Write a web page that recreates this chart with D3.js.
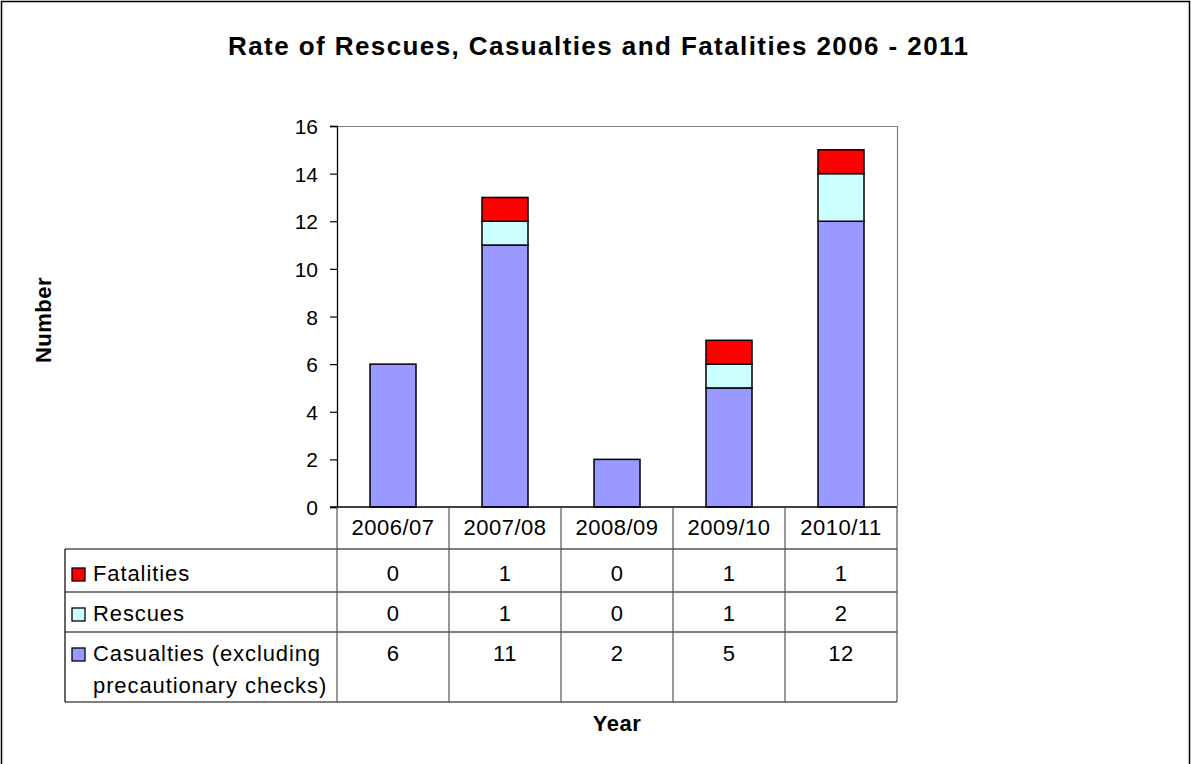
<!DOCTYPE html>
<html><head><meta charset="utf-8">
<script src="https://cdn.jsdelivr.net/npm/d3@7"></script>
<style>
html,body{margin:0;padding:0;background:#fff;}
svg{display:block;font-family:"Liberation Sans",Arial,sans-serif;}
</style></head>
<body><svg id="c" width="1191" height="764"></svg>
<script>
const years = ["2006/07","2007/08","2008/09","2009/10","2010/11"];
const casualties = [6,11,2,5,12];
const rescues = [0,1,0,1,2];
const fatalities = [0,1,0,1,1];
const yTicks = [0,2,4,6,8,10,12,14,16];
const seriesColors = ["#9999FF","#CCFFFF","#FF0000"];

const svg = d3.select("#c");
const L=337,R=897,T=126,B=507;
const y = d3.scaleLinear().domain([0,16]).range([B,T]);
const x = d3.scaleBand().domain(years).range([L,R]).paddingInner(0).paddingOuter(0);
const barW = 46;
const FS = 22;

// outer border
svg.append("rect").attr("x",1.5).attr("y",1.5).attr("width",1188).attr("height",780)
  .attr("fill","none").attr("stroke","#000").attr("stroke-width",1.5);

// title
svg.append("text").attr("x",598).attr("y",55).attr("text-anchor","middle")
  .attr("font-weight","bold").attr("font-size",26)
  .attr("textLength",740).attr("lengthAdjust","spacing")
  .text("Rate of Rescues, Casualties and Fatalities 2006 - 2011");

// plot frame top/right
svg.append("path").attr("d",`M${L},${T+0.5}H${R+0.5}V${B}`).attr("fill","none").attr("stroke","#808080").attr("stroke-width",1.2);

// stacked data
const table = years.map((yr,i)=>({year:yr, c:casualties[i], r:rescues[i], f:fatalities[i]}));
const stack = d3.stack().keys(["c","r","f"])(table);
stack.forEach((layer,li)=>{
  svg.append("g").selectAll("rect").data(layer.filter(d=>d[1]-d[0]>0)).join("rect")
    .attr("x",d=>x(d.data.year)+x.bandwidth()/2-barW/2)
    .attr("y",d=>y(d[1]))
    .attr("width",barW)
    .attr("height",d=>y(d[0])-y(d[1]))
    .attr("fill",seriesColors[li])
    .attr("stroke","#000").attr("stroke-width",1.5);
});

// y axis
const yAxis = d3.axisLeft(y).tickValues(yTicks).tickSize(7).tickPadding(12).tickFormat(d3.format("d"));
const ga = svg.append("g").attr("transform",`translate(${L},0)`).call(yAxis);
ga.select(".domain").attr("stroke","#000").attr("stroke-width",1.3);
ga.selectAll(".tick line").attr("stroke","#000").attr("stroke-width",1.2);
ga.selectAll(".tick text").attr("font-size",21).attr("fill","#000").attr("dy","0.36em")
  .attr("font-family","Liberation Sans, Arial, sans-serif");

// baseline
svg.append("line").attr("x1",L-7).attr("x2",R).attr("y1",B).attr("y2",B).attr("stroke","#000").attr("stroke-width",1.3);

// data table
const rowsY = [549,592,632,702];
const tl = 65;
const gt = svg.append("g").attr("font-size",FS).attr("letter-spacing",0.5);
rowsY.forEach(yy=>gt.append("line").attr("x1",tl).attr("x2",R).attr("y1",yy).attr("y2",yy).attr("stroke","#000").attr("stroke-width",1.2));
gt.append("line").attr("x1",tl).attr("x2",tl).attr("y1",549).attr("y2",702).attr("stroke","#000").attr("stroke-width",1.2);
[L,...years.map(d=>x(d)+x.bandwidth())].forEach(xx=>gt.append("line").attr("x1",xx).attr("x2",xx).attr("y1",B).attr("y2",702).attr("stroke","#555").attr("stroke-width",1.2));

// headers
gt.selectAll("text.h").data(years).join("text").attr("class","h")
  .attr("x",d=>x(d)+x.bandwidth()/2).attr("y",535).attr("text-anchor","middle").text(d=>d);

// rows (top to bottom: fatalities, rescues, casualties)
const rows = [
  {name:["Fatalities"], vals:fatalities, color:seriesColors[2], base:581},
  {name:["Rescues"], vals:rescues, color:seriesColors[1], base:621},
  {name:["Casualties (excluding","precautionary checks)"], vals:casualties, color:seriesColors[0], base:661}
];
rows.forEach(r=>{
  gt.append("rect").attr("x",72).attr("y",r.base-13).attr("width",13).attr("height",13)
    .attr("fill",r.color).attr("stroke","#000").attr("stroke-width",1.3);
  r.name.forEach((nm,k)=>gt.append("text").attr("x",93).attr("y",r.base+k*32).attr("letter-spacing",0.9).text(nm));
  gt.selectAll(null).data(r.vals).join("text")
    .attr("x",(d,i)=>x(years[i])+x.bandwidth()/2).attr("y",r.base).attr("text-anchor","middle").text(d=>d);
});

// axis titles
svg.append("text").attr("x",617).attr("y",731).attr("text-anchor","middle").attr("font-weight","bold").attr("font-size",22).attr("letter-spacing",0.5).text("Year");
svg.append("text").attr("transform","translate(51,320) rotate(-90)").attr("text-anchor","middle").attr("font-weight","bold").attr("font-size",22).attr("letter-spacing",0.5).text("Number");
</script></body></html>
